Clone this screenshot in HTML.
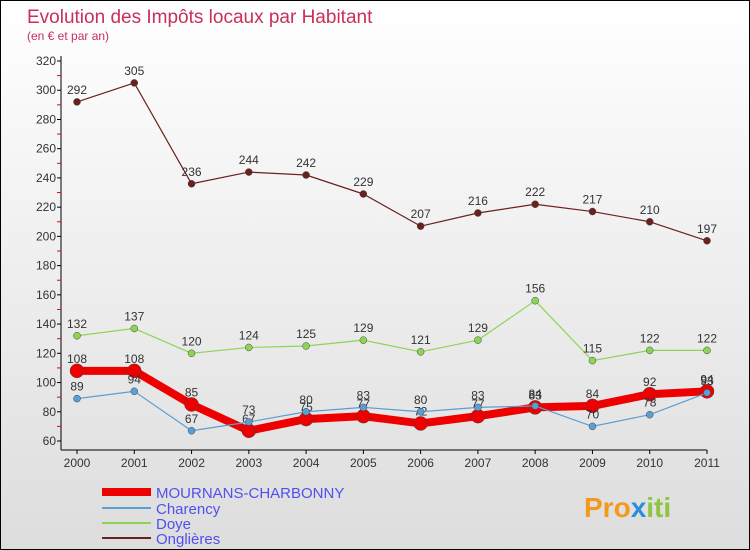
<!DOCTYPE html>
<html><head><meta charset="utf-8"><style>
body{margin:0}
#c{width:748px;height:548px;border:1px solid #000;background:linear-gradient(#fff,#ddd);position:relative;font-family:"Liberation Sans",sans-serif}
</style></head><body>
<div id="c">
<svg width="748" height="548" id="s" style="position:absolute;left:0;top:0">
<text x="26" y="22" font-size="19" fill="#c8305a">Evolution des Impôts locaux par Habitant</text>
<text x="26" y="39" font-size="12" fill="#c8305a">(en € et par an)</text>
<g id="axes"></g><g id="marks"></g>
<g font-size="15" fill="#5050ee">
<line x1="101" y1="491" x2="150" y2="491" stroke="#e00" stroke-width="8"/>
<text x="155" y="497">MOURNANS-CHARBONNY</text>
<line x1="101" y1="507" x2="150" y2="507" stroke="#5a9fd4" stroke-width="2"/>
<text x="155" y="513">Charency</text>
<line x1="101" y1="522" x2="150" y2="522" stroke="#8ed454" stroke-width="2"/>
<text x="155" y="528">Doye</text>
<line x1="101" y1="537" x2="150" y2="537" stroke="#6b2020" stroke-width="2"/>
<text x="155" y="543">Onglières</text>
</g>
<text x="583" y="516" font-size="28" font-weight="bold" fill="#f39a1e">Pro<tspan fill="#2a8fd8">x</tspan><tspan fill="#8dc63f">iti</tspan></text>
</svg>
</div>
<script>
const years=[2000,2001,2002,2003,2004,2005,2006,2007,2008,2009,2010,2011];
const yTicks=[60,80,100,120,140,160,180,200,220,240,260,280,300,320];
const mournans=[108,108,85,67,75,77,72,77,83,84,92,94];
const charency=[89,94,67,73,80,83,80,83,84,70,78,93];
const doye=[132,137,120,124,125,129,121,129,156,115,122,122];
const onglieres=[292,305,236,244,242,229,207,216,222,217,210,197];
const NS="http://www.w3.org/2000/svg";
const X=i=>76+i*(630/11), Y=v=>440-(v-60)*(380/260);
function mk(t,a,p){const e=document.createElementNS(NS,t);for(const k in a)e.setAttribute(k,a[k]);p.appendChild(e);return e;}
const ax=document.getElementById('axes'),mg=document.getElementById('marks');
mk('line',{x1:60,y1:55,x2:60,y2:449,stroke:'#000'},ax);
mk('line',{x1:60,y1:449,x2:706,y2:449,stroke:'#000'},ax);
yTicks.forEach(v=>{const y=Y(v);
mk('line',{x1:56,y1:y,x2:60,y2:y,stroke:'#000'},ax);
if(v<320)mk('line',{x1:56,y1:y-Y(60)/1+Y(70),x2:60,y2:y-Y(60)+Y(70),stroke:'#e00'},ax);
const t=mk('text',{x:55,y:y+4,'font-size':12,fill:'#333','text-anchor':'end'},ax);t.textContent=v;

});
years.forEach((yr,i)=>{mk('line',{x1:X(i),y1:449,x2:X(i),y2:453,stroke:'#000'},ax);
const t=mk('text',{x:X(i),y:466,'font-size':12,fill:'#333','text-anchor':'middle'},ax);t.textContent=yr;

});
function series(d,col,w,r,name){const g=mk('g',{},mg);


mk('polyline',{points:d.map((v,i)=>X(i)+','+Y(v)).join(' '),fill:'none',stroke:col,'stroke-width':w,'stroke-linejoin':'round'},g);
d.forEach((v,i)=>{mk('circle',{cx:X(i),cy:Y(v),r:r,fill:col,stroke:'#444','stroke-width':0.5},g);
const t=mk('text',{x:X(i),y:Y(v)-8,'font-size':12,fill:'#333','text-anchor':'middle'},g);t.textContent=v;});}
series(onglieres,'#6b2020',1.2,3.5,'series-onglieres');
series(doye,'#8ed454',1.2,3.5,'series-doye');
series(mournans,'#e00',8,7,'series-mournans-charbonny');
series(charency,'#5a9fd4',1.2,3.5,'series-charency');
</script>
</body></html>
